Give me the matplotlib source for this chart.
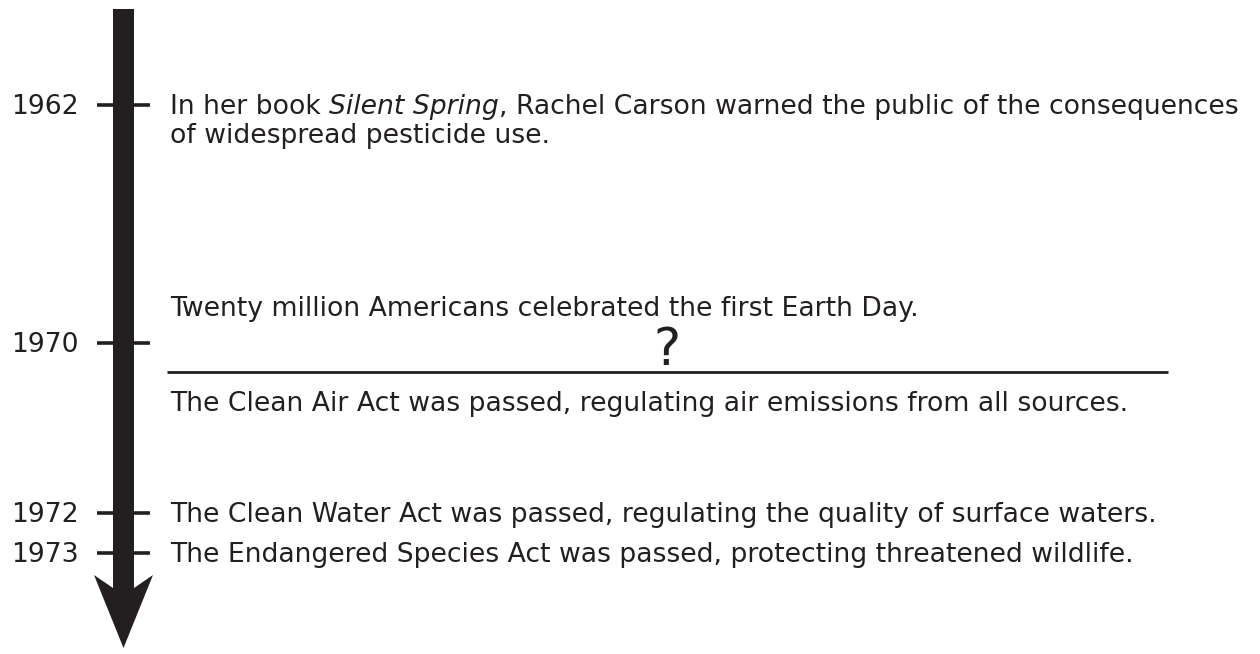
import matplotlib
matplotlib.use('Agg')
import matplotlib.pyplot as plt
from matplotlib.patches import Polygon

# timeline data
years = [1962, 1970, 1972, 1973]
events_1962 = ["In her book ", "Silent Spring", ", Rachel Carson warned the public of the consequences"]
events_1962_line2 = "of widespread pesticide use."
event_1970_above = "Twenty million Americans celebrated the first Earth Day."
event_1970_blank = "?"
event_1970_below = "The Clean Air Act was passed, regulating air emissions from all sources."
event_1972 = "The Clean Water Act was passed, regulating the quality of surface waters."
event_1973 = "The Endangered Species Act was passed, protecting threatened wildlife."

# layout (pixel coordinates, y downwards)
tick_y = [105, 343, 513, 553]
ink = '#231f20'
fs = 19.2
cap = 9  # half cap height, px

fig = plt.figure(figsize=(12.6, 6.54), dpi=100)
ax = fig.add_axes([0, 0, 1, 1])
ax.set_xlim(0, 1260)
ax.set_ylim(654, 0)
ax.axis('off')

# arrow
arrow = Polygon([(113, 9), (134, 9), (134, 588), (153, 575), (123.5, 648),
                 (94, 575), (113, 588)], closed=True, facecolor=ink, edgecolor='none')
ax.add_patch(arrow)

# ticks and year labels
for yr, y in zip(years, tick_y):
    ax.plot([97, 150], [y, y], color=ink, lw=2.6, solid_capstyle='butt')
    ax.text(79, y + cap, str(yr), ha='right', va='baseline', fontsize=fs, color=ink)

# 1962 entry with italic title
fig.canvas.draw()
renderer = fig.canvas.get_renderer()
x = 170
for i, part in enumerate(events_1962):
    t = ax.text(x, tick_y[0] + cap, part, ha='left', va='baseline', fontsize=fs,
                color=ink, style='italic' if i == 1 else 'normal')
    bb = t.get_window_extent(renderer)
    x += bb.width
ax.text(170, tick_y[0] + cap + 29, events_1962_line2, ha='left', va='baseline',
        fontsize=fs, color=ink)

# 1970 entry: text, blank line, text
ax.text(170, 316, event_1970_above, ha='left', va='baseline', fontsize=fs, color=ink)
ax.plot([167, 1168], [372, 372], color=ink, lw=2.0, solid_capstyle='butt')
ax.text(667, 365, event_1970_blank, ha='center', va='baseline', fontsize=37, color=ink)
ax.text(170, 411, event_1970_below, ha='left', va='baseline', fontsize=fs, color=ink)

ax.text(170, tick_y[2] + cap, event_1972, ha='left', va='baseline', fontsize=fs, color=ink)
ax.text(170, tick_y[3] + cap, event_1973, ha='left', va='baseline', fontsize=fs, color=ink)

fig.savefig('out.png', dpi=100)
